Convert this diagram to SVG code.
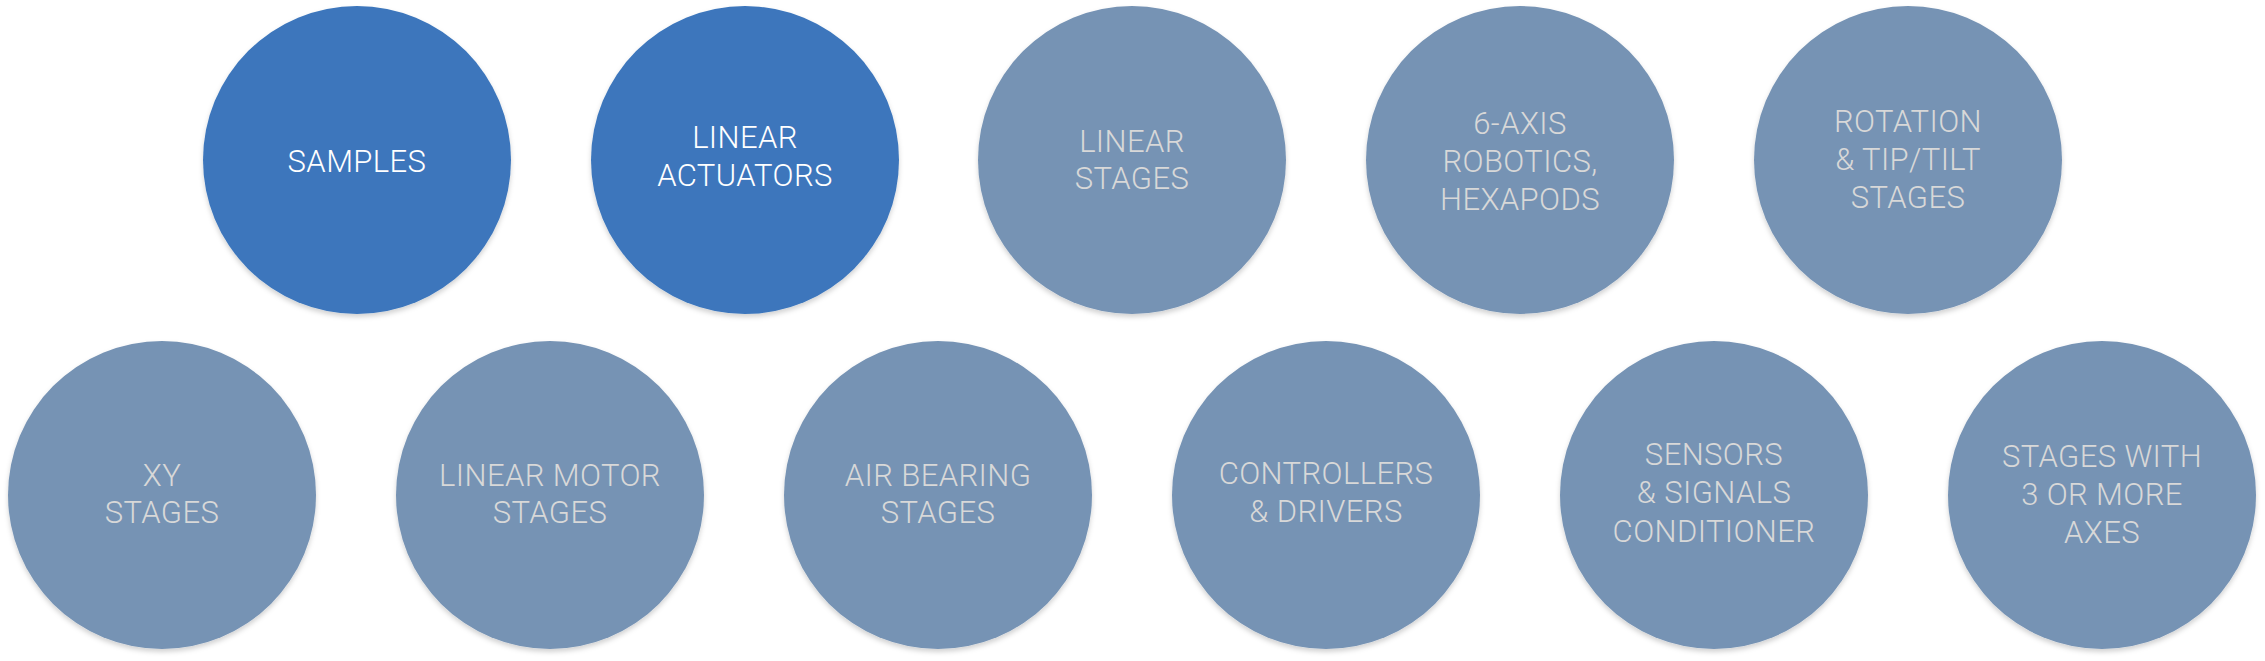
<svg xmlns="http://www.w3.org/2000/svg" width="2265" height="661" viewBox="0 0 2265 661">
<defs>
<filter id="sh" x="-10%" y="-10%" width="120%" height="125%">
<feDropShadow dx="0" dy="3" stdDeviation="2.5" flood-color="#000" flood-opacity="0.18"/>
</filter>
</defs>
<style>
.c{filter:url(#sh)}
.hi{fill:#3c76bc}
.lo{fill:#7693b4}
text{font-family:Roboto,"Liberation Sans",sans-serif;font-weight:300;font-size:31px;letter-spacing:0.4px;text-anchor:middle}
.wt{fill:#ffffff}
.gt{fill:#d8d8d8}
</style>
<rect width="2265" height="661" fill="#ffffff"/>
<g id="connectors"/>
<g id="n-samples"><circle class="c hi" cx="357" cy="160" r="154"/><text class="wt" x="357" y="172">SAMPLES</text></g>
<g id="n-linear-actuators"><circle class="c hi" cx="745" cy="160" r="154"/><text class="wt" x="745" y="148">LINEAR</text><text class="wt" x="745" y="186">ACTUATORS</text></g>
<g id="n-linear-stages"><circle class="c lo" cx="1132" cy="160" r="154"/><text class="gt" x="1132" y="152">LINEAR</text><text class="gt" x="1132" y="189">STAGES</text></g>
<g id="n-6axis"><circle class="c lo" cx="1520" cy="160" r="154"/><text class="gt" x="1520" y="134">6-AXIS</text><text class="gt" x="1520" y="172">ROBOTICS,</text><text class="gt" x="1520" y="210">HEXAPODS</text></g>
<g id="n-rotation"><circle class="c lo" cx="1908" cy="160" r="154"/><text class="gt" x="1908" y="132">ROTATION</text><text class="gt" x="1908" y="170">&amp; TIP/TILT</text><text class="gt" x="1908" y="208">STAGES</text></g>
<g id="n-xy"><circle class="c lo" cx="162" cy="495" r="154"/><text class="gt" x="162" y="486">XY</text><text class="gt" x="162" y="523">STAGES</text></g>
<g id="n-linear-motor"><circle class="c lo" cx="550" cy="495" r="154"/><text class="gt" x="550" y="486">LINEAR MOTOR</text><text class="gt" x="550" y="523">STAGES</text></g>
<g id="n-air-bearing"><circle class="c lo" cx="938" cy="495" r="154"/><text class="gt" x="938" y="486">AIR BEARING</text><text class="gt" x="938" y="523">STAGES</text></g>
<g id="n-controllers"><circle class="c lo" cx="1326" cy="495" r="154"/><text class="gt" x="1326" y="484">CONTROLLERS</text><text class="gt" x="1326" y="522">&amp; DRIVERS</text></g>
<g id="n-sensors"><circle class="c lo" cx="1714" cy="495" r="154"/><text class="gt" x="1714" y="465">SENSORS</text><text class="gt" x="1714" y="503">&amp; SIGNALS</text><text class="gt" x="1714" y="542">CONDITIONER</text></g>
<g id="n-stages-3"><circle class="c lo" cx="2102" cy="495" r="154"/><text class="gt" x="2102" y="467">STAGES WITH</text><text class="gt" x="2102" y="505">3 OR MORE</text><text class="gt" x="2102" y="543">AXES</text></g>
</svg>
